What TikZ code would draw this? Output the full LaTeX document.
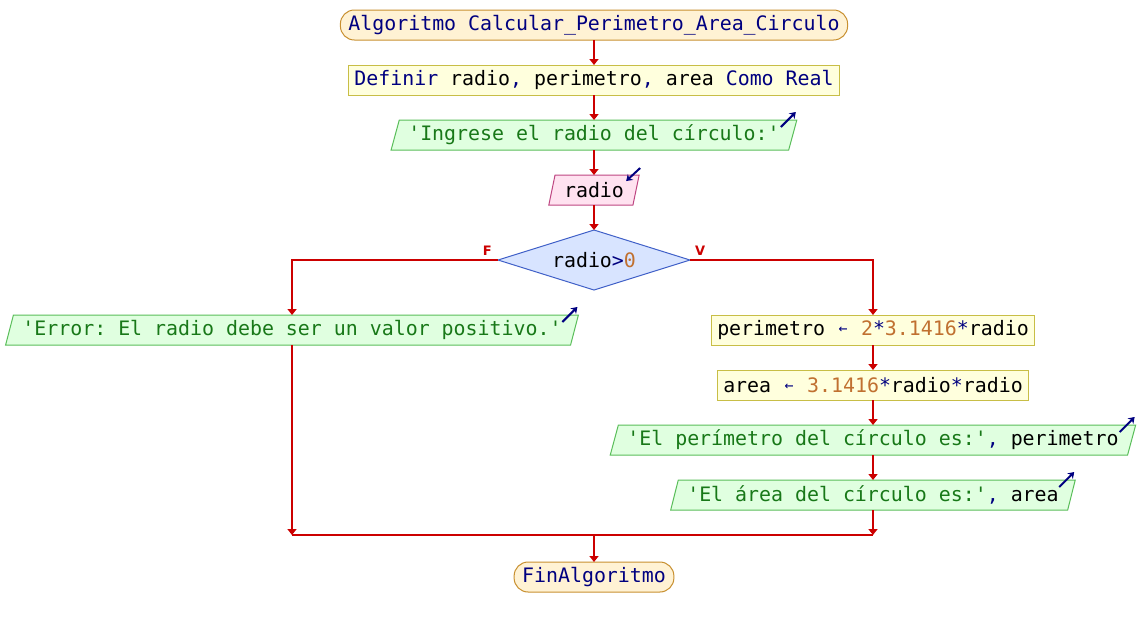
\documentclass[tikz,border=0pt]{standalone}
\usepackage{fontspec}
\setmonofont{DejaVu Sans Mono}
\setsansfont{DejaVu Sans}
\usetikzlibrary{positioning,shapes.geometric,arrows.meta}

\definecolor{rojolinea}{RGB}{204,0,0}
\definecolor{azulclave}{RGB}{0,0,128}
\definecolor{verdecad}{RGB}{24,120,24}
\definecolor{naranjanum}{RGB}{192,112,48}
\definecolor{bordeext}{RGB}{200,144,48}
\definecolor{fondoext}{RGB}{255,242,212}
\definecolor{bordeproc}{RGB}{200,190,70}
\definecolor{fondoproc}{RGB}{255,255,221}
\definecolor{bordesal}{RGB}{90,190,90}
\definecolor{fondosal}{RGB}{224,255,224}
\definecolor{bordeent}{RGB}{190,70,130}
\definecolor{fondoent}{RGB}{255,226,240}
\definecolor{bordedec}{RGB}{64,96,200}
\definecolor{fondodec}{RGB}{216,228,255}

\newcommand{\kw}[1]{\textcolor{azulclave}{#1}}
\newcommand{\cad}[1]{\textcolor{verdecad}{#1}}
\newcommand{\num}[1]{\textcolor{naranjanum}{#1}}
\newcommand{\asig}{\makebox[0.602em]{\kw{\raisebox{0.1em}{\scalebox{0.75}{←}}}}}

\tikzset{
  base/.style={font=\ttfamily\fontsize{19.9}{22}\selectfont, minimum height=30pt,
    inner ysep=0pt, outer sep=0pt, line width=1pt},
  extremo/.style={base, rectangle, rounded corners=14pt, draw=bordeext, fill=fondoext,
    text=azulclave, inner xsep=8pt},
  proceso/.style={base, rectangle, draw=bordeproc, fill=fondoproc, inner xsep=6pt},
  salida/.style={base, trapezium, trapezium left angle=68, trapezium right angle=112,
    trapezium stretches body, draw=bordesal, fill=fondosal, inner xsep=9pt},
  entrada/.style={base, trapezium, trapezium left angle=68, trapezium right angle=112,
    trapezium stretches body, draw=bordeent, fill=fondoent, inner xsep=9pt},
  decision/.style={base, diamond, aspect=3.2, inner sep=0pt, minimum width=192pt,
    minimum height=60pt, draw=bordedec, fill=fondodec},
  flecha/.style={draw=rojolinea, line width=1.6pt, -{Triangle[width=9pt,length=6pt]}},
  linea/.style={draw=rojolinea, line width=1.6pt},
  marca/.style={draw=azulclave, line width=2pt, -{Stealth[width=8pt,length=6pt]}},
  etiqueta/.style={text=rojolinea, font=\sffamily\bfseries\fontsize{13}{13}\selectfont,
    inner sep=0pt}
}

\begin{document}
\begin{tikzpicture}[x=1pt,y=1pt]
  \useasboundingbox[fill=white] (0,0) rectangle (1140,-625);

  \node[extremo] (inicio) at (594,-25) {Algoritmo Calcular\_Perimetro\_Area\_Circulo};
  \node[proceso, below=25pt of inicio] (definir)
    {\kw{Definir} radio\kw{,} perimetro\kw{,} area \kw{Como Real}};
  \node[salida, below=25pt of definir] (pedir) {\cad{'Ingrese el radio del círculo:'}};
  \node[entrada, below=25pt of pedir] (leer) {radio};
  \node[decision, below=25pt of leer] (cond) {radio\kw{>}\num{0}};
  \node[etiqueta, anchor=south east] at ([shift={(-6pt,4pt)}]cond.west) {F};
  \node[etiqueta, anchor=south west] at ([shift={(5pt,4pt)}]cond.east) {V};

  % rama falsa
  \node[salida] (error) at (292,-330) {\cad{'Error: El radio debe ser un valor positivo.'}};

  % rama verdadera
  \node[proceso] (perim) at (873,-330) {perimetro \asig{} \num{2}\kw{*}\num{3.1416}\kw{*}radio};
  \node[proceso, below=25pt of perim] (area) {area \asig{} \num{3.1416}\kw{*}radio\kw{*}radio};
  \node[salida, below=25pt of area] (mostrarp)
    {\cad{'El perímetro del círculo es:'}\kw{,} perimetro};
  \node[salida, below=25pt of mostrarp] (mostrara) {\cad{'El área del círculo es:'}\kw{,} area};

  \coordinate (unir) at (594,-535);
  \node[extremo, below=27pt of unir] (fin) {FinAlgoritmo};

  \draw[flecha] (inicio) -- (definir);
  \draw[flecha] (definir) -- (pedir);
  \draw[flecha] (pedir) -- (leer);
  \draw[flecha] (leer) -- (cond);
  \draw[flecha] (cond.west) -| (error);
  \draw[flecha] (cond.east) -| (perim);
  \draw[flecha] (perim) -- (area);
  \draw[flecha] (area) -- (mostrarp);
  \draw[flecha] (mostrarp) -- (mostrara);
  \draw[flecha] (error) -- (error |- unir);
  \draw[flecha] (mostrara) -- (mostrara |- unir);
  \draw[linea] (error |- unir) -- (mostrara |- unir);
  \draw[flecha] (unir) -- (fin);

  % marcas de entrada/salida
  \foreach \n in {pedir,error,mostrarp,mostrara}
    \draw[marca] ([shift={(-16pt,-7pt)}]\n.top right corner)
      -- ([shift={(-1pt,8pt)}]\n.top right corner);
  \draw[marca] ([shift={(1pt,7pt)}]leer.top right corner)
    -- ([shift={(-13pt,-6pt)}]leer.top right corner);
\end{tikzpicture}
\end{document}
